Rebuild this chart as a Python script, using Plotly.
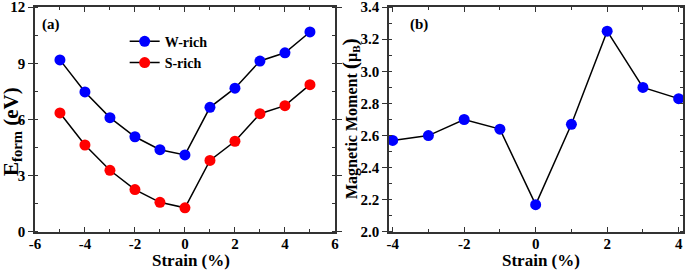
import plotly.graph_objects as go

strain_a = [-5, -4, -3, -2, -1, 0, 1, 2, 3, 4, 5]
w_rich = [9.18, 7.47, 6.10, 5.08, 4.39, 4.11, 6.65, 7.67, 9.12, 9.56, 10.67]
s_rich = [6.35, 4.64, 3.29, 2.26, 1.58, 1.29, 3.82, 4.84, 6.31, 6.74, 7.86]

strain_b = [-4, -3, -2, -1, 0, 1, 2, 3, 4]
moment = [2.57, 2.60, 2.70, 2.64, 2.17, 2.67, 3.25, 2.90, 2.83]

xa_ticks = [-6, -4, -2, 0, 2, 4, 6]
xa_labels = ["-6", "-4", "-2", "0", "2", "4", "6"]
ya_ticks = [0, 3, 6, 9, 12]
ya_labels = ["0", "3", "6", "9", "12"]
xb_ticks = [-4, -2, 0, 2, 4]
xb_labels = ["-4", "-2", "0", "2", "4"]
yb_ticks = [2.0, 2.2, 2.4, 2.6, 2.8, 3.0, 3.2, 3.4]
yb_labels = ["2.0", "2.2", "2.4", "2.6", "2.8", "3.0", "3.2", "3.4"]


def bold(labels):
    return ["<b>%s</b>" % s for s in labels]


FONT = "Liberation Serif"
fig = go.Figure()

fig.add_trace(go.Scatter(x=strain_a, y=w_rich, mode="lines+markers", name="<b>W-rich</b>",
                         line=dict(color="black", width=1.5),
                         marker=dict(color="#0000ff", size=11), xaxis="x", yaxis="y"))
fig.add_trace(go.Scatter(x=strain_a, y=s_rich, mode="lines+markers", name="<b>S-rich</b>",
                         line=dict(color="black", width=1.5),
                         marker=dict(color="#ff0000", size=11), xaxis="x", yaxis="y"))
fig.add_trace(go.Scatter(x=strain_b, y=moment, mode="lines+markers", showlegend=False,
                         line=dict(color="black", width=1.5),
                         marker=dict(color="#0000ff", size=11), xaxis="x2", yaxis="y2"))

axis_common = dict(showline=True, linecolor="#333", linewidth=1.5, mirror="ticks",
                   showgrid=False, zeroline=False, ticklen=5, tickwidth=1.2, tickcolor="#333",
                   automargin=False, ticklabeloverflow="allow",
                   tickfont=dict(family=FONT, size=15, color="black"))

fig.update_layout(
    width=685, height=271,
    margin=dict(l=0, r=0, t=0, b=0),
    paper_bgcolor="white", plot_bgcolor="white",
    font=dict(family=FONT, color="black"),
    xaxis=dict(domain=[0.051, 0.489], range=[-6, 6], tickvals=xa_ticks, ticktext=bold(xa_labels),
               ticks="inside", ticklabelstandoff=-3,
               minor=dict(dtick=1, tick0=0, ticks="inside", ticklen=3, tickcolor="#333"),
               anchor="y", **axis_common),
    yaxis=dict(domain=[0.144, 0.974], range=[0, 12], tickvals=ya_ticks, ticktext=bold(ya_labels),
               ticks="outside",
               minor=dict(dtick=1.5, tick0=0, ticks="inside", ticklen=3, tickcolor="#333"),
               anchor="x", **axis_common),
    xaxis2=dict(domain=[0.568, 0.997], range=[-4.1, 4.12], tickvals=xb_ticks, ticktext=bold(xb_labels),
                ticks="inside", ticklabelstandoff=-3,
                minor=dict(dtick=1, tick0=0, ticks="inside", ticklen=3, tickcolor="#333"),
                anchor="y2", **axis_common),
    yaxis2=dict(domain=[0.144, 0.974], range=[2.0, 3.4], tickvals=yb_ticks, ticktext=bold(yb_labels),
                ticks="outside",
                minor=dict(dtick=0.1, tick0=2.0, ticks="inside", ticklen=3, tickcolor="#333"),
                anchor="x2", **axis_common),
    legend=dict(x=0.182, y=0.905, xanchor="left", yanchor="top",
                bgcolor="rgba(0,0,0,0)", font=dict(family=FONT, size=14),
                itemwidth=30, tracegroupgap=6),
    annotations=[
        dict(text="<b>(a)</b>", x=0.058, y=0.91, xref="paper", yref="paper",
             xanchor="left", yanchor="middle", showarrow=False, font=dict(size=15)),
        dict(text="<b>(b)</b>", x=0.595, y=0.91, xref="paper", yref="paper",
             xanchor="left", yanchor="middle", showarrow=False, font=dict(size=15)),
        dict(text="<b>Strain (%)</b>", x=191 / 685, y=1 - 260 / 271, xref="paper", yref="paper",
             xanchor="center", yanchor="middle", showarrow=False, font=dict(size=17)),
        dict(text="<b>Strain (%)</b>", x=541 / 685, y=1 - 260 / 271, xref="paper", yref="paper",
             xanchor="center", yanchor="middle", showarrow=False, font=dict(size=17)),
        dict(text="<b>E<sub>form</sub> (eV)</b>", x=12 / 685, y=1 - 132 / 271,
             xref="paper", yref="paper", textangle=-90,
             xanchor="center", yanchor="middle", showarrow=False, font=dict(size=21)),
        dict(text="<b>Magnetic Moment <span style='font-size:22px'>(</span>μ<sub>B</sub><span style='font-size:22px'>)</span></b>",
             x=349 / 685, y=1 - 119 / 271,
             xref="paper", yref="paper", textangle=-90,
             xanchor="center", yanchor="middle", showarrow=False, font=dict(size=16)),
    ],
)

fig.write_html("out.html", config={"displayModeBar": False},
               post_script="document.body.style.margin='0';document.body.style.overflow='hidden';")
